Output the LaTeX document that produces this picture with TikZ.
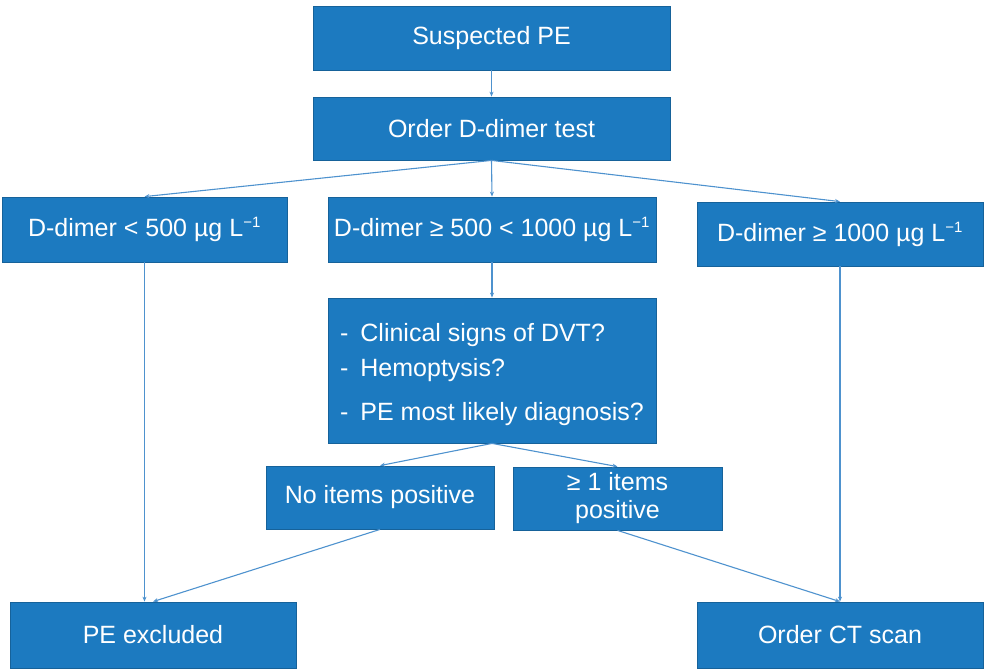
\documentclass[tikz,border=0pt]{standalone}
\usepackage{fontspec}
\setmainfont{Liberation Sans}
\usepackage{tikz}
\usetikzlibrary{arrows.meta,positioning}
\definecolor{PEblue}{RGB}{28,122,192}
\definecolor{PEline}{RGB}{78,146,206}
\newcommand{\perlitre}{L\textsuperscript{\fontsize{15}{15}\selectfont −1}}

\begin{document}
\begin{tikzpicture}[x=1pt,y=-1pt,>={Stealth[length=5pt,width=4pt]},
    box/.style={draw=PEblue!80!black,line width=0.8pt,fill=PEblue,text=white,inner sep=0pt,
      align=center,font=\fontsize{25}{30}\selectfont},
    link/.style={->,PEline,line width=1.1pt}]
  \useasboundingbox (0,0) rectangle (985,669);
  \node[box,minimum width=357,minimum height=64] (sus) at (491.5,38) {Suspected PE};
  \node[box,minimum width=357,minimum height=63] (ord) at (491.5,128.5) {Order D-dimer test};
  \node[box,minimum width=285,minimum height=65] (low) at (144.5,229.5)
     {D-dimer < 500 µg \perlitre};
  \node[box,minimum width=328,minimum height=65] (mid) at (492,229.5)
     {D-dimer ≥ 500 < 1000 µg \perlitre};
  \node[box,minimum width=286,minimum height=64] (high) at (840,234)
     {D-dimer ≥ 1000 µg \perlitre};
  \node[box,minimum width=328,minimum height=145,align=left,
     font=\fontsize{25}{35}\selectfont] (qst) at (492,370.5)
     {\rule{0pt}{26pt}-\hspace{12pt}Clinical signs of DVT?\\
      -\hspace{12pt}Hemoptysis?\\[9pt]
      -\hspace{12pt}PE most likely diagnosis?};
  \node[box,minimum width=228,minimum height=63] (neg) at (380,497.5) {No items positive};
  \node[box,minimum width=209,minimum height=63,font=\fontsize{25}{28}\selectfont] (pos)
     at (617.5,498.5) {≥ 1 items\\positive};
  \node[box,minimum width=286,minimum height=66] (excl) at (153,635) {PE excluded};
  \node[box,minimum width=286,minimum height=66] (ct) at (840,635) {Order CT scan};

  \draw[link] (sus)--(ord);
  \draw[link] (ord.south)--(low.north);
  \draw[link] (ord.south)--(mid.north);
  \draw[link] (ord.south)--(high.north);
  \draw[link] (mid)--(qst);
  \draw[link] (low.south)--(low.south |- excl.north);
  \draw[link] (high)--(ct);
  \draw[link] (qst.south)--(neg.north);
  \draw[link] (qst.south)--(pos.north);
  \draw[link] (neg.south)--(excl.north);
  \draw[link] (pos.south)--(ct.north);
\end{tikzpicture}
\end{document}
